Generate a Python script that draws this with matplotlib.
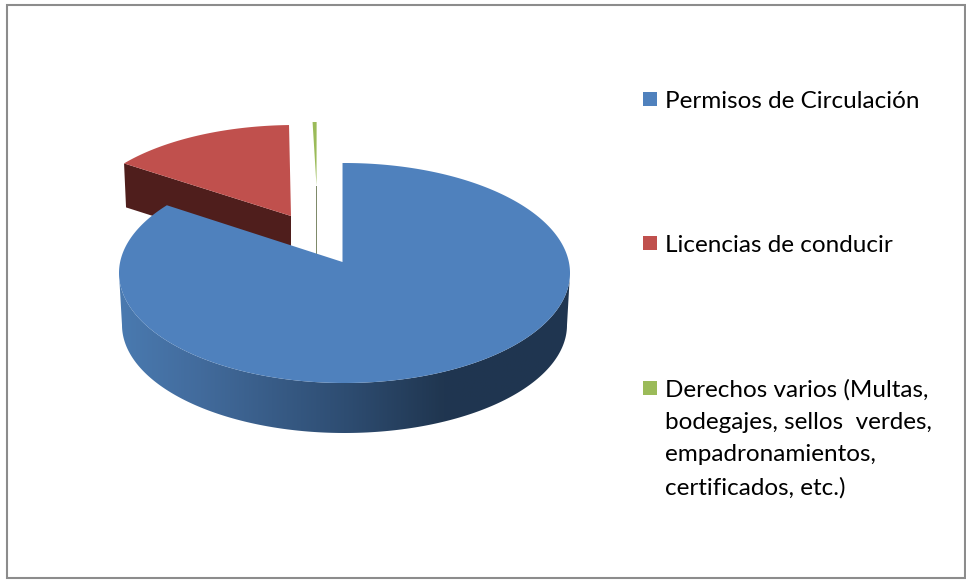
import numpy as np
import matplotlib
matplotlib.use("Agg")
import matplotlib.pyplot as plt
from matplotlib.colors import LinearSegmentedColormap
from matplotlib.patches import Polygon, Rectangle

# Data
categories = ["Permisos de Circulación", "Licencias de conducir",
              "Derechos varios (Multas,\nbodegajes, sellos  verdes,\nempadronamientos,\ncertificados, etc.)"]
values = [85.7, 14.0, 0.3]

# Style
top_colors = ["#4f81bd", "#c0504d", "#9bbb59"]
START = -0.5
W, H = 966, 580

plt.rcParams["font.family"] = ["Lato", "DejaVu Sans"]
fig = plt.figure(figsize=(W / 100, H / 100), dpi=100)
ax = fig.add_axes([0, 0, 1, 1])
ax.set_xlim(0, W)
ax.set_ylim(H, 0)
ax.axis("off")

# Slice layout: apex and ellipse of each exploded slice
layout = [
    dict(apex=(342.5, 262), c=(344.5, 273), rx=225.5, ry=110),
    dict(apex=(291, 216), c=(295, 225), rx=217, ry=100),
    dict(apex=(316.5, 186), c=(318.5, 222), rx=215, ry=100),
]

edges = START + 360 * np.cumsum([0] + values) / sum(values)


def arc(c, rx, ry, a0, a1, n=200):
    t = np.radians(np.linspace(a0, a1, n))
    return np.column_stack([c[0] + rx * np.sin(t), c[1] - ry * np.cos(t)])


# Red slice: cut face, then top
l = layout[1]
depth = 44
a0, a1 = edges[1], edges[2]
corner = arc(l["c"], l["rx"], l["ry"], a0, a0, 1)[0]
ax.add_patch(Polygon([corner, l["apex"], (l["apex"][0], l["apex"][1] + depth),
                      (corner[0] + 2, corner[1] + depth)],
                     closed=True, fc="#4f1e1c", ec="none", zorder=2))
ax.add_patch(Polygon(np.vstack([[l["apex"]], arc(l["c"], l["rx"], l["ry"], a0, a1)]),
                     closed=True, fc=top_colors[1], ec="none", zorder=3))

# Green slice: dark cut face, then top
l = layout[2]
a0, a1 = edges[2], edges[3]
ax.add_patch(Polygon([(l["apex"][0] - 0.7, l["apex"][1]), (l["apex"][0] + 0.7, l["apex"][1]),
                      (l["apex"][0] + 0.7, l["apex"][1] + 70), (l["apex"][0] - 0.7, l["apex"][1] + 70)],
                     closed=True, fc="#7f8a6a", ec="none", zorder=2))
ax.add_patch(Polygon(np.vstack([[l["apex"]], arc(l["c"], l["rx"], l["ry"], a0, a1)]),
                     closed=True, fc=top_colors[2], ec="none", zorder=3))

# Blue slice: shaded rim
l = layout[0]
bc, brx, bry = (344.5, 325), 222.5, 108
rim_top = arc(l["c"], l["rx"], l["ry"], 90, 270)
rim_bot = arc(bc, brx, bry, 270, 90)
rim = Polygon(np.vstack([rim_top, rim_bot]), closed=True, fc="none", ec="none",
              transform=ax.transData)
ax.add_patch(rim)
stops = [(0.0, "#4a7ab0"), (0.18, "#426b9c"), (0.5, "#2e4d72"), (0.72, "#203650"), (1.0, "#1f3550")]
cmap = LinearSegmentedColormap.from_list("rim", stops)
im = ax.imshow(np.linspace(0, 1, 256)[None, :], extent=(119, 570, 440, 270), cmap=cmap,
               aspect="auto", zorder=4)
im.set_clip_path(rim)
ax.set_xlim(0, W)
ax.set_ylim(H, 0)

# Blue slice: top
ax.add_patch(Polygon(np.vstack([[l["apex"]], arc(l["c"], l["rx"], l["ry"], edges[0], edges[1], 500)]),
                     closed=True, fc=top_colors[0], ec="none", zorder=5))

# Legend
legend_y = [99, 243, 388]
for name, col, y in zip(categories, top_colors, legend_y):
    ax.add_patch(Rectangle((643, y - 7), 14, 14, fc=col, ec="none", zorder=6))
    ax.text(665, y - 8.5, name, fontsize=17.5, color="#000000", va="top", ha="left",
            linespacing=1.66, zorder=6)

# Chart frame
ax.add_patch(Rectangle((7, 5), 958, 573, fc="none", ec="#8c8c8c", lw=1.5, zorder=7))

fig.savefig("out.png", dpi=100)
